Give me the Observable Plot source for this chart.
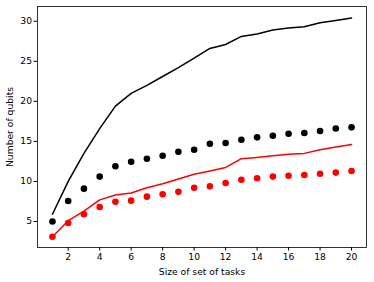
<!DOCTYPE html>
<html><head><meta charset="utf-8">
<script src="https://cdn.jsdelivr.net/npm/d3@7"></script>
<script src="https://cdn.jsdelivr.net/npm/@observablehq/plot@0.6"></script>
<style>body{margin:0;background:#fff}svg{display:block}</style>
</head><body><div id="c"></div>
<script>
const tasks = [1,2,3,4,5,6,7,8,9,10,11,12,13,14,15,16,17,18,19,20];
const blackLine = [5.9,10.0,13.5,16.6,19.4,21.0,22.0,23.1,24.2,25.4,26.6,27.1,28.1,28.4,28.9,29.15,29.3,29.8,30.1,30.4];
const blackDots = [5.0,7.55,9.1,10.6,11.9,12.46,12.84,13.2,13.7,13.96,14.7,14.8,15.2,15.5,15.7,15.96,16.05,16.3,16.6,16.75];
const redLine = [3.1,5.1,6.3,7.7,8.3,8.55,9.2,9.7,10.3,10.9,11.3,11.75,12.84,13.0,13.2,13.4,13.5,13.96,14.3,14.6];
const redDots = [3.09,4.8,5.9,6.8,7.46,7.6,8.1,8.4,8.7,9.2,9.4,9.8,10.2,10.4,10.6,10.7,10.8,10.96,11.1,11.3];
const xTicks = [2,4,6,8,10,12,14,16,18,20];
const yTicks = [5,10,15,20,25,30];

const rows = (ys) => tasks.map((t,i)=>({x:t,y:ys[i]}));

const chart = Plot.plot({
  width: 374, height: 282,
  marginLeft: 37, marginRight: 8, marginTop: 6, marginBottom: 35,
  style: {fontFamily: "DejaVu Sans", fontSize: "9.2px", color: "#000", background: "#fff"},
  x: {domain: [0.05, 20.95]},
  y: {domain: [1.75, 31.84]},
  marks: [
    Plot.frame({stroke: "#000", strokeWidth: 0.8}),
    Plot.axisX({ticks: xTicks, tickSize: 3.5, tickPadding: 2, label: "Size of set of tasks", labelAnchor: "center", labelArrow: "none", labelOffset: 27}),
    Plot.axisY({ticks: yTicks, tickSize: 3.5, tickPadding: 2, label: "Number of qubits", labelAnchor: "center", labelArrow: "none", labelOffset: 31}),
    Plot.line(rows(blackLine), {x: "x", y: "y", stroke: "#000", strokeWidth: 1.5}),
    Plot.line(rows(redLine), {x: "x", y: "y", stroke: "#ff0000", strokeWidth: 1.5}),
    Plot.dot(rows(blackDots), {x: "x", y: "y", fill: "#000", r: 3.3}),
    Plot.dot(rows(redDots), {x: "x", y: "y", fill: "#ff0000", r: 3.3})
  ]
});
document.getElementById("c").append(chart);
</script></body></html>
